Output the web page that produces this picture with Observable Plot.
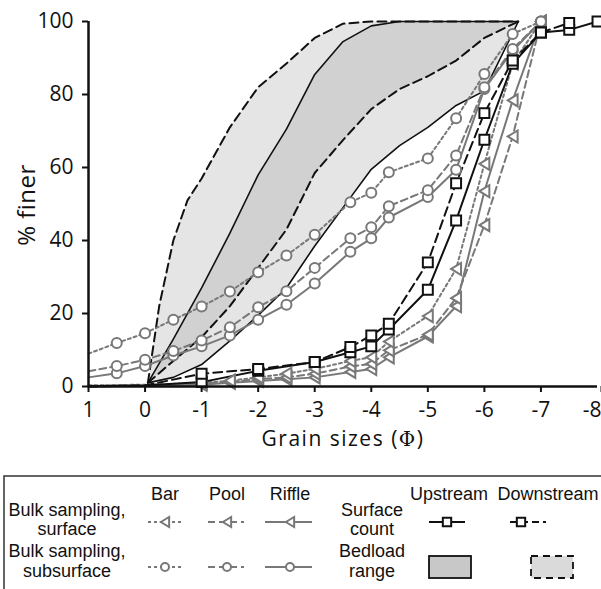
<!DOCTYPE html>
<html>
<head>
<meta charset="utf-8">
<script src="https://cdn.jsdelivr.net/npm/d3@7"></script>
<script src="https://cdn.jsdelivr.net/npm/@observablehq/plot@0.6"></script>
<style>
  body { margin: 0; background: #fff; }
  svg { display: block; }
</style>
</head>
<body>
<div id="chart"></div>
<script>
// ---- axis ticks ----
const phiTicks = [1, 0, -1, -2, -3, -4, -5, -6, -7, -8];
const finerTicks = [0, 20, 40, 60, 80, 100];

// ---- bulk sieve classes (phi) and cumulative % finer ----
const bulkPhi          = [1, 0.5, 0, -0.5, -1, -1.5, -2, -2.5, -3, -3.63, -4, -4.31, -5, -5.5, -6, -6.5, -7];
const subsurfaceBar    = [9, 11.9, 14.6, 18.3, 21.9, 26, 31.3, 35.9, 41.6, 50.5, 53.1, 58.7, 62.5, 73.5, 85.6, 96.6, 100];
const subsurfacePool   = [4.2, 5.6, 7.3, 9.7, 12.6, 16.2, 21.7, 26.1, 32.5, 40.6, 43.6, 49.4, 53.8, 63.3, 82, 92.5, 100];
const subsurfaceRiffle = [2.5, 3.6, 5.6, 8.5, 11, 14, 18.3, 22.4, 28.2, 36.9, 40.6, 46.3, 51.9, 59.4, 81.5, 92, 100];
const surfaceBar       = [0.3, 0.4, 0.5, 0.7, 1, 1.6, 2.5, 3.5, 4.8, 7, 8, 12.3, 19.3, 32.2, 61, 88.5, 100];
const surfacePool      = [0.2, 0.3, 0.4, 0.5, 0.8, 1.3, 2, 2.5, 3.5, 5.5, 6.2, 9.9, 14.2, 24.2, 44.2, 68.5, 100];
const surfaceRiffle    = [0.1, 0.2, 0.3, 0.4, 0.5, 1, 1.5, 2, 2.5, 4, 4.8, 8, 13.7, 22, 53.5, 78.4, 100];

// ---- surface (pebble) count classes ----
const countPhi        = [1, 0, -1, -2, -3, -3.63, -4, -4.31, -5, -5.5, -6, -6.5, -7, -7.5, -8];
const countUpstream   = [0, 0.3, 1.2, 4.3, 6.7, 9.4, 11, 15.6, 26.5, 45.5, 67.6, 88.4, 97, 97.7, 100];
const countDownstream = [0, 0.3, 3.5, 4.8, 6.7, 10.8, 14, 17.2, 34, 55.7, 74.9, 89.3, 97, 99.6, null];

// ---- bedload envelopes ----
const upUpperPhi   = [-0.05, -0.5, -1, -1.5, -2, -2.5, -3, -3.5, -4, -4.5, -6.6];
const upUpper      = [1, 13, 27, 42, 58, 70.5, 85.5, 94.5, 98.8, 100, 100];
const upLowerPhi   = [-0.05, -0.5, -1, -1.5, -2, -2.5, -3, -3.5, -4, -4.5, -5, -5.5, -6, -6.6];
const upLower      = [1, 2.5, 6, 12.5, 19.5, 27, 38.5, 49, 59.5, 66, 71, 77, 81, 100];
const downUpperPhi = [-0.05, -0.25, -0.5, -0.75, -1, -1.5, -2, -2.5, -3, -3.5, -4, -6.6];
const downUpper    = [1, 22, 40, 51, 57, 71, 82, 88.5, 95.5, 99.4, 100, 100];
const downLowerPhi = [-0.05, -0.5, -1, -1.5, -2, -2.5, -3, -3.5, -4, -4.5, -5, -5.5, -6, -6.6];
const downLower    = [1, 7, 13.5, 22, 32.5, 43, 58.5, 67.5, 76, 81.5, 85, 89.3, 95.5, 100];

const gray = "#787878";
const black = "#111";

// left-pointing triangle marker
const leftTriangle = {
  draw(context, size) {
    const a = Math.sqrt(size) * 0.62;
    context.moveTo(-a * 0.9, 0);
    context.lineTo(a * 0.9, -a * 1.1);
    context.lineTo(a * 0.9, a * 1.1);
    context.closePath();
  }
};

const rows = (phi, vals) => phi.map((p, i) => ({phi: p, pct: vals[i]})).filter(d => d.pct != null);
const polygon = (pu, vu, pl, vl) => rows(pu, vu).concat(rows(pl, vl).reverse());

const series = [
  {data: rows(bulkPhi, surfaceRiffle),    stroke: gray,  dash: null,  symbol: leftTriangle, r: 5,   from: -1},
  {data: rows(bulkPhi, surfacePool),      stroke: gray,  dash: "7,4", symbol: leftTriangle, r: 5,   from: -1},
  {data: rows(bulkPhi, surfaceBar),       stroke: gray,  dash: "3,3", symbol: leftTriangle, r: 5,   from: -1},
  {data: rows(bulkPhi, subsurfaceRiffle), stroke: gray,  dash: null,  symbol: "circle",     r: 5,   from: 0.5},
  {data: rows(bulkPhi, subsurfacePool),   stroke: gray,  dash: "7,4", symbol: "circle",     r: 5,   from: 0.5},
  {data: rows(bulkPhi, subsurfaceBar),    stroke: gray,  dash: "3,3", symbol: "circle",     r: 5,   from: 0.5},
  {data: rows(countPhi, countUpstream),   stroke: black, dash: null,  symbol: "square",     r: 5.6, from: -1},
  {data: rows(countPhi, countDownstream), stroke: black, dash: "9,5", symbol: "square",     r: 5.6, from: -1}
];

const envelopeMarks = [
  Plot.line(polygon(downUpperPhi, downUpper, downLowerPhi, downLower), {x: "phi", y: "pct", fill: "#999", fillOpacity: 0.25, stroke: "none"}),
  Plot.line(polygon(upUpperPhi, upUpper, upLowerPhi, upLower), {x: "phi", y: "pct", fill: "#999", fillOpacity: 0.25, stroke: "none"}),
  Plot.line(rows(upUpperPhi, upUpper), {x: "phi", y: "pct", stroke: black, strokeWidth: 1.6}),
  Plot.line(rows(upLowerPhi, upLower), {x: "phi", y: "pct", stroke: black, strokeWidth: 1.6}),
  Plot.line(rows(downUpperPhi, downUpper), {x: "phi", y: "pct", stroke: black, strokeWidth: 2, strokeDasharray: "9,5"}),
  Plot.line(rows(downLowerPhi, downLower), {x: "phi", y: "pct", stroke: black, strokeWidth: 2, strokeDasharray: "9,5"})
];

const lineMarks = series.map(s => Plot.line(s.data, {
  x: "phi", y: "pct", stroke: s.stroke, strokeWidth: 2, strokeDasharray: s.dash, strokeLinejoin: "round"
}));
const dotMarks = series.map(s => Plot.dot(s.data.filter(d => d.phi <= s.from), {
  x: "phi", y: "pct", symbol: s.symbol, r: s.r, stroke: s.stroke, strokeWidth: 2, fill: "white"
}));

const lastTick = phiTicks[phiTicks.length - 1];
const plot = Plot.plot({
  width: 601,
  height: 470,
  marginTop: 21,
  marginBottom: 84,
  marginLeft: 88,
  marginRight: 4,
  style: {fontFamily: "'Open Sans', sans-serif", color: "#111", background: "white", overflow: "visible"},
  x: {domain: [1, -8]},
  y: {domain: [0, 100]},
  marks: [
    ...envelopeMarks,
    ...lineMarks,
    ...dotMarks,
    Plot.ruleX([1], {y1: 0, y2: 100, stroke: black, strokeWidth: 2.5}),
    Plot.ruleY([0], {x1: 1, x2: -8, stroke: black, strokeWidth: 2.5}),
    Plot.axisX(phiTicks.slice(0, -1), {tickSize: 6, tickPadding: 10, strokeWidth: 2, fontSize: 21, tickFormat: d => String(d), label: null}),
    Plot.axisX([lastTick], {tickSize: 6, tickPadding: 10, strokeWidth: 2, fontSize: 21, tickFormat: d => String(d), textAnchor: "end", dx: 4, label: null}),
    Plot.axisY(finerTicks, {tickSize: 6, tickPadding: 9, strokeWidth: 2, fontSize: 21, label: null})
  ]
});

// axis titles
const svg = d3.select(plot);
const xTitle = svg.append("text")
  .attr("x", 343).attr("y", 446)
  .attr("text-anchor", "middle")
  .style("font-size", "21px").style("letter-spacing", "1.5px").attr("fill", black);
xTitle.append("tspan").text("Grain sizes (");
xTitle.append("tspan").style("font-family", "'DejaVu Serif', serif").style("font-size", "20px").text("Φ");
xTitle.append("tspan").text(")");
svg.append("text")
  .attr("transform", "translate(35,205) rotate(-90)")
  .attr("text-anchor", "middle")
  .style("font-size", "24px").style("letter-spacing", "0.5px").attr("fill", black)
  .text("% finer");

document.getElementById("chart").append(plot);

// ---- legend ----
const legendColumns = ["Bar", "Pool", "Riffle"];
const legendSites = ["Upstream", "Downstream"];
const lg = d3.create("svg")
  .attr("width", 601).attr("height", 119)
  .style("font-family", "'Liberation Sans', Arial, sans-serif")
  .style("font-size", "18px");
lg.append("rect").attr("x", 4).attr("y", 6).attr("width", 640).attr("height", 200)
  .attr("fill", "none").attr("stroke", "#333").attr("stroke-width", 1.5);

const txt = (x, y, t) => lg.append("text").attr("x", x).attr("y", y).attr("text-anchor", "middle").attr("fill", black).text(t);
const colX = [165, 227, 290];
legendColumns.forEach((c, i) => txt(colX[i], 30, c));
txt(449, 30, legendSites[0]);
txt(548, 30, legendSites[1]);
txt(67, 46, "Bulk sampling,"); txt(67, 65, "surface");
txt(67, 87, "Bulk sampling,"); txt(67, 107, "subsurface");
txt(372, 46, "Surface"); txt(372, 65, "count");
txt(372, 87, "Bedload"); txt(372, 107, "range");

function sample(x1, x2, mx, y, stroke, dash, symbol, size) {
  lg.append("line").attr("x1", x1).attr("x2", x2).attr("y1", y).attr("y2", y)
    .attr("stroke", stroke).attr("stroke-width", 2).attr("stroke-dasharray", dash);
  lg.append("path").attr("d", d3.symbol(symbol, size)())
    .attr("transform", `translate(${mx},${y})`)
    .attr("fill", "white").attr("stroke", stroke).attr("stroke-width", 2);
}
const dashes = ["3,3", "7,4", null];
const spans = [[148, 182], [208, 244], [265, 312]];
dashes.forEach((d, i) => {
  sample(spans[i][0], spans[i][1], colX[i], 52, gray, d, leftTriangle, 55);
  sample(spans[i][0], spans[i][1], colX[i], 97, gray, d, d3.symbolCircle, 50);
});
sample(429, 465, 447, 52, black, null, d3.symbolSquare, 70);
sample(510, 546, 521, 52, black, "7,4", d3.symbolSquare, 70);
lg.append("rect").attr("x", 429).attr("y", 86).attr("width", 42).attr("height", 22)
  .attr("fill", "#c8c8c8").attr("stroke", black).attr("stroke-width", 1.8);
lg.append("rect").attr("x", 531).attr("y", 86).attr("width", 42).attr("height", 22)
  .attr("fill", "#dadada").attr("stroke", black).attr("stroke-width", 1.8).attr("stroke-dasharray", "7,5");

document.getElementById("chart").append(lg.node());
</script>
</body>
</html>
